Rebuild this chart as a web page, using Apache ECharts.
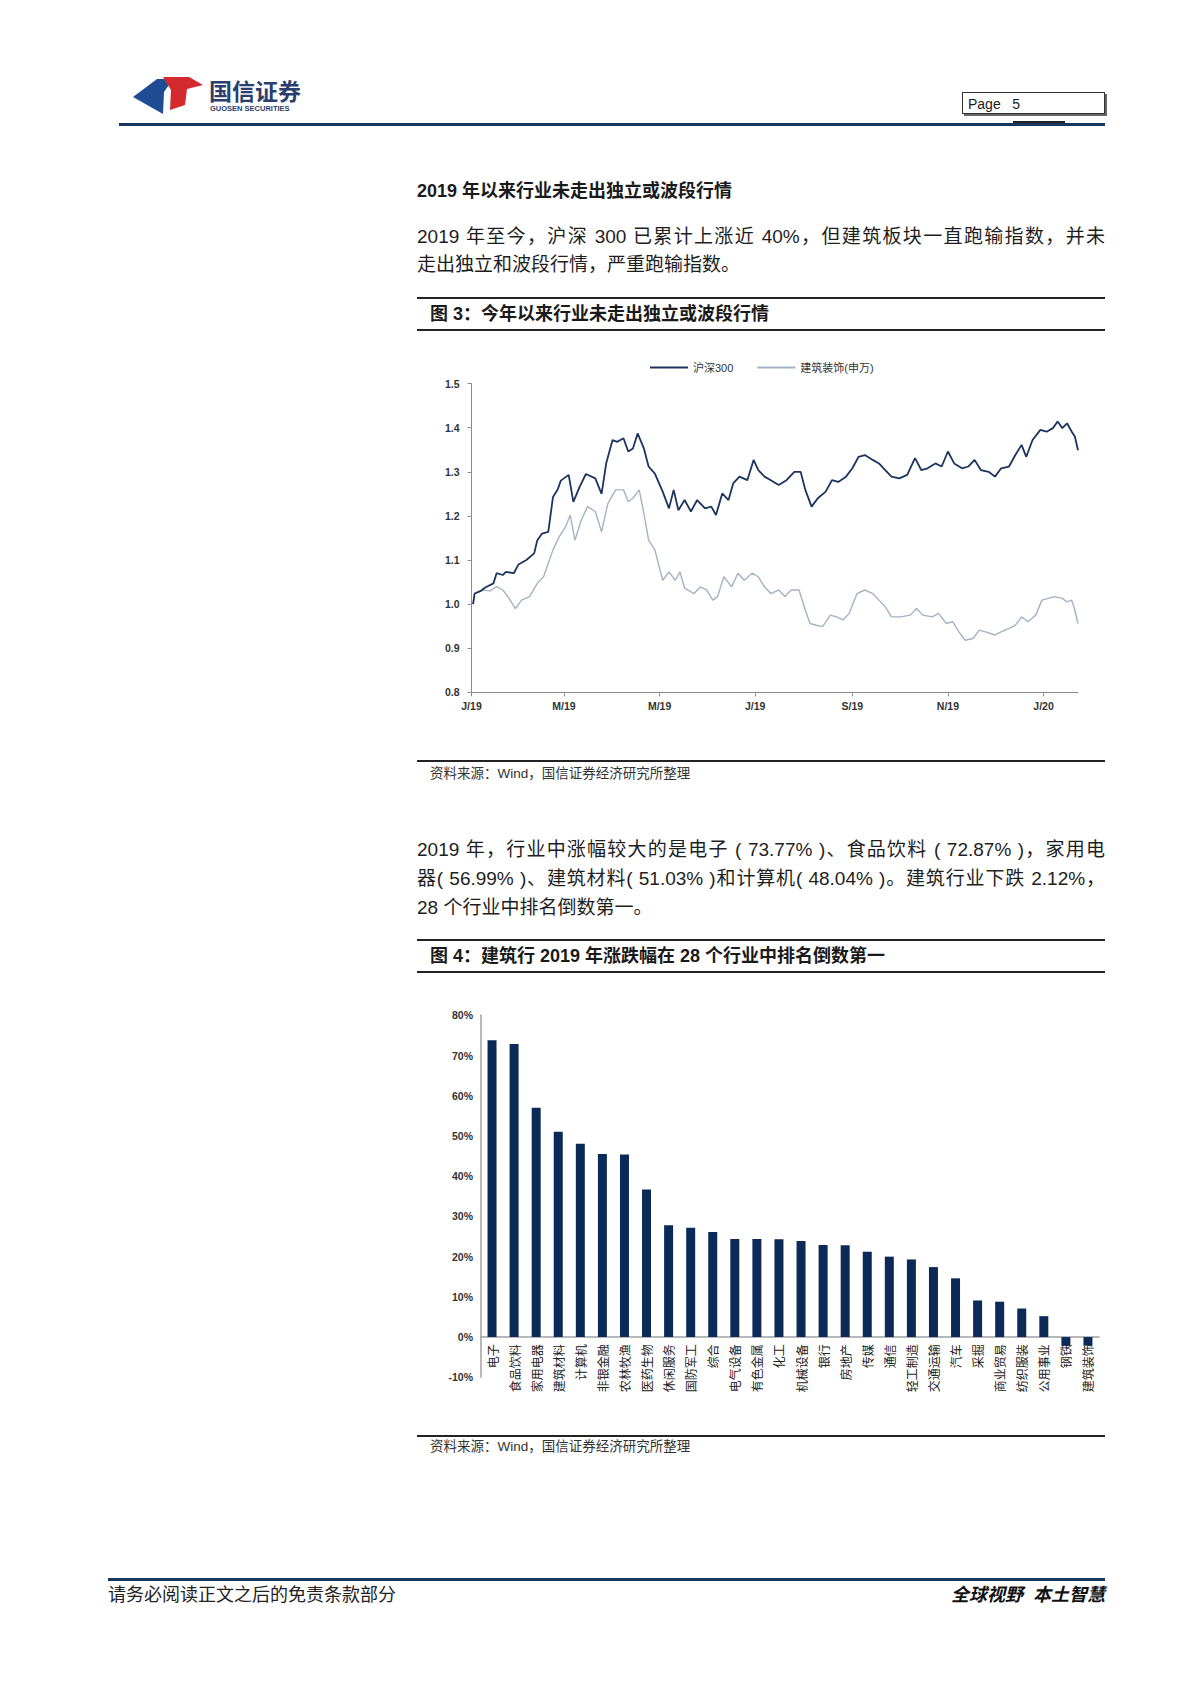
<!DOCTYPE html>
<html><head><meta charset="utf-8">
<script src="https://cdn.jsdelivr.net/npm/echarts@6/dist/echarts.min.js"></script>
<style>
html,body{margin:0;padding:0;background:#fff;}
#page{position:relative;width:1200px;height:1698px;background:#fff;font-family:"Liberation Sans","Noto Sans CJK SC",sans-serif;color:#1a1a1a;overflow:hidden;}
.abs{position:absolute;white-space:nowrap;}
.rule{position:absolute;left:417px;width:688px;height:1.5px;background:#222;}
.body{position:absolute;left:417px;width:688px;font-size:19px;line-height:28px;height:28px;color:#1e1e1e;}
.just{text-align:justify;text-align-last:justify;}
.cap{position:absolute;left:430px;font-size:18px;font-weight:bold;line-height:28px;white-space:nowrap;}
.src{position:absolute;left:430px;font-size:13.5px;line-height:16px;color:#333;white-space:nowrap;}
</style></head>
<body><div id="page">
<svg class="abs" style="left:133px;top:74px" width="72" height="44" viewBox="0 0 72 44">
  <polygon points="0,23 24,5 40,5 31,18 30,40" fill="#1f4c93"/>
  <polygon points="30,3 56,3 70,11 54,15 52,31 37,36 38,16" fill="#d42a2f"/>
</svg>
<div class="abs" style="left:209px;top:76px;font-size:23px;font-weight:bold;color:#2b3e6e;font-family:'Noto Sans CJK SC';line-height:28px;">国信证券</div>
<div class="abs" style="left:210px;top:104px;font-size:7.5px;font-weight:bold;color:#2b3e6e;line-height:9px;">GUOSEN SECURITIES</div>
<div class="abs" style="left:962px;top:92px;width:143px;height:22px;border:1px solid #333;box-shadow:2px 2px 0 #666;font-size:14px;line-height:22px;padding-left:5px;box-sizing:border-box;">Page&nbsp;&nbsp;&nbsp;5</div>
<div class="abs" style="left:1013px;top:121px;width:52px;height:2px;background:#222;"></div>
<div class="abs" style="left:119px;top:123px;width:986px;height:3px;background:#17365d;"></div>

<div class="cap" style="left:417px;top:177px;">2019 年以来行业未走出独立或波段行情</div>
<div class="body just" style="top:223px;">2019 年至今，沪深 300 已累计上涨近 40%，但建筑板块一直跑输指数，并未</div>
<div class="body" style="top:251px;">走出独立和波段行情，严重跑输指数。</div>
<div class="rule" style="top:297px;"></div>
<div class="cap" style="top:300px;">图 3：今年以来行业未走出独立或波段行情</div>
<div class="rule" style="top:329px;"></div>
<div id="c1" class="abs" style="left:417px;top:340px;width:700px;height:400px;"></div>
<div class="rule" style="top:760px;"></div>
<div class="src" style="top:766px;">资料来源：Wind，国信证券经济研究所整理</div>

<div class="body just" style="top:836px;">2019 年，行业中涨幅较大的是电子 ( 73.77% )、食品饮料 ( 72.87% )，家用电</div>
<div class="body just" style="top:865px;">器( 56.99% )、建筑材料( 51.03% )和计算机( 48.04% )。建筑行业下跌 2.12%，</div>
<div class="body" style="top:894px;">28 个行业中排名倒数第一。</div>
<div class="rule" style="top:939px;"></div>
<div class="cap" style="top:942px;">图 4：建筑行 2019 年涨跌幅在 28 个行业中排名倒数第一</div>
<div class="rule" style="top:971px;"></div>
<div id="c2" class="abs" style="left:417px;top:990px;width:700px;height:430px;"></div>
<div class="rule" style="top:1435px;"></div>
<div class="src" style="top:1439px;">资料来源：Wind，国信证券经济研究所整理</div>

<div class="abs" style="left:108px;top:1578px;width:997px;height:3px;background:#17365d;"></div>
<div class="abs" style="left:108px;top:1584px;font-size:18px;line-height:22px;color:#222;">请务必阅读正文之后的免责条款部分</div>
<div class="abs" style="right:95px;top:1584px;font-size:18px;line-height:22px;font-weight:bold;font-style:italic;color:#111;">全球视野&nbsp;&nbsp;本土智慧</div>
</div>
<script>
// ---- Figure 3 data ----
const seriesNames = ['沪深300', '建筑装饰(申万)'];
const hs300Dates = ['2019-01-02','2019-01-03','2019-01-07','2019-01-09','2019-01-11','2019-01-15','2019-01-17','2019-01-21','2019-01-23','2019-01-28','2019-01-31','2019-02-05','2019-02-10','2019-02-12','2019-02-15','2019-02-19','2019-02-22','2019-02-25','2019-02-27','2019-03-04','2019-03-07','2019-03-11','2019-03-15','2019-03-21','2019-03-25','2019-03-28','2019-04-01','2019-04-04','2019-04-08','2019-04-11','2019-04-14','2019-04-17','2019-04-21','2019-04-24','2019-04-28','2019-05-03','2019-05-07','2019-05-10','2019-05-13','2019-05-17','2019-05-21','2019-05-25','2019-05-30','2019-06-03','2019-06-06','2019-06-10','2019-06-14','2019-06-17','2019-06-21','2019-06-26','2019-06-30','2019-07-03','2019-07-07','2019-07-11','2019-07-16','2019-07-21','2019-07-26','2019-07-30','2019-08-02','2019-08-06','2019-08-10','2019-08-15','2019-08-19','2019-08-23','2019-08-28','2019-09-01','2019-09-05','2019-09-09','2019-09-14','2019-09-18','2019-09-22','2019-09-26','2019-10-01','2019-10-06','2019-10-11','2019-10-15','2019-10-19','2019-10-24','2019-10-28','2019-11-01','2019-11-05','2019-11-10','2019-11-14','2019-11-18','2019-11-22','2019-11-27','2019-12-01','2019-12-05','2019-12-10','2019-12-14','2019-12-18','2019-12-21','2019-12-25','2019-12-30','2020-01-03','2020-01-07','2020-01-10','2020-01-13','2020-01-16','2020-01-19','2020-01-21','2020-01-23'];
const hs300Values = [1.000,1.024,1.030,1.036,1.040,1.047,1.070,1.066,1.073,1.070,1.090,1.100,1.115,1.145,1.160,1.164,1.243,1.260,1.280,1.293,1.232,1.266,1.295,1.285,1.250,1.320,1.372,1.368,1.376,1.346,1.353,1.387,1.353,1.312,1.296,1.255,1.217,1.259,1.213,1.236,1.210,1.236,1.217,1.221,1.202,1.251,1.236,1.274,1.289,1.281,1.327,1.304,1.289,1.281,1.270,1.281,1.300,1.300,1.259,1.221,1.240,1.255,1.281,1.277,1.289,1.308,1.334,1.338,1.327,1.319,1.304,1.289,1.285,1.293,1.331,1.304,1.308,1.319,1.312,1.346,1.319,1.308,1.312,1.327,1.304,1.300,1.289,1.308,1.312,1.338,1.361,1.334,1.372,1.395,1.391,1.399,1.414,1.399,1.410,1.391,1.380,1.349];
const jzDates = ['2019-01-02','2019-01-03','2019-01-08','2019-01-13','2019-01-17','2019-01-21','2019-01-25','2019-01-29','2019-02-02','2019-02-07','2019-02-12','2019-02-16','2019-02-22','2019-02-26','2019-03-02','2019-03-05','2019-03-08','2019-03-12','2019-03-16','2019-03-21','2019-03-25','2019-03-29','2019-04-03','2019-04-08','2019-04-11','2019-04-14','2019-04-18','2019-04-21','2019-04-24','2019-04-28','2019-05-03','2019-05-07','2019-05-11','2019-05-14','2019-05-17','2019-05-23','2019-05-27','2019-05-31','2019-06-04','2019-06-07','2019-06-11','2019-06-16','2019-06-20','2019-06-24','2019-06-29','2019-07-03','2019-07-07','2019-07-11','2019-07-16','2019-07-20','2019-07-24','2019-07-29','2019-08-02','2019-08-05','2019-08-09','2019-08-13','2019-08-18','2019-08-22','2019-08-26','2019-08-30','2019-09-04','2019-09-09','2019-09-14','2019-09-18','2019-09-22','2019-09-26','2019-10-02','2019-10-08','2019-10-12','2019-10-16','2019-10-22','2019-10-26','2019-10-31','2019-11-04','2019-11-08','2019-11-12','2019-11-17','2019-11-21','2019-11-25','2019-12-01','2019-12-05','2019-12-10','2019-12-14','2019-12-18','2019-12-22','2019-12-27','2019-12-31','2020-01-04','2020-01-08','2020-01-13','2020-01-16','2020-01-19','2020-01-21','2020-01-23'];
const jzValues = [1.000,1.024,1.032,1.030,1.040,1.032,1.013,0.990,1.009,1.017,1.047,1.062,1.123,1.153,1.175,1.202,1.145,1.190,1.221,1.210,1.164,1.228,1.259,1.259,1.232,1.240,1.259,1.206,1.145,1.123,1.054,1.073,1.054,1.073,1.036,1.024,1.039,1.032,1.009,1.017,1.062,1.039,1.070,1.054,1.070,1.062,1.039,1.024,1.032,1.017,1.032,1.032,0.986,0.956,0.952,0.949,0.975,0.971,0.964,0.979,1.024,1.032,1.024,1.009,0.994,0.971,0.971,0.975,0.990,0.975,0.971,0.979,0.956,0.960,0.937,0.918,0.922,0.941,0.937,0.930,0.937,0.945,0.952,0.971,0.960,0.975,1.009,1.013,1.017,1.013,1.005,1.009,0.986,0.956];
const lineXTickDates = ['2019-01-01','2019-03-01','2019-05-01','2019-07-01','2019-09-01','2019-11-01','2020-01-01'];
const lineXTickLabels = ['J/19','M/19','M/19','J/19','S/19','N/19','J/20'];
const lineXStart = '2019-01-01', lineXEnd = '2020-01-23';

// ---- Figure 4 data ----
const industries = ['电子','食品饮料','家用电器','建筑材料','计算机','非银金融','农林牧渔','医药生物','休闲服务','国防军工','综合','电气设备','有色金属','化工','机械设备','银行','房地产','传媒','通信','轻工制造','交通运输','汽车','采掘','商业贸易','纺织服装','公用事业','钢铁','建筑装饰'];
const returns2019 = [73.77,72.87,56.99,51.03,48.04,45.5,45.4,36.7,27.8,27.2,26.1,24.4,24.4,24.3,23.9,22.9,22.8,21.2,20.0,19.3,17.4,14.6,9.1,8.8,7.1,5.2,-2.2,-2.12];

const axisFont = {fontFamily:'"Liberation Sans Narrow","Liberation Sans",Arial,sans-serif', fontWeight:'bold', fontSize:10.5, color:'#333'};

// Figure 4 (bar chart)
const c2 = echarts.init(document.getElementById('c2'), null, {renderer:'svg'});
c2.setOption({
  animation:false,
  grid:{left:64, top:25.3, width:618, height:362, containLabel:false},
  xAxis:{type:'category', data:industries,
    axisLine:{onZero:true, lineStyle:{color:'#a0a0a0', width:1.5}},
    axisTick:{show:false},
    axisLabel:{interval:0, rotate:90, margin:-33, fontSize:12, color:'#222', fontFamily:'"Noto Sans CJK SC"'}},
  yAxis:{type:'value', min:-10, max:80, interval:10,
    axisLine:{show:true, lineStyle:{color:'#a0a0a0', width:1.5}},
    axisTick:{show:false},
    axisLabel:Object.assign({margin:8, formatter:v => v + '%'}, axisFont),
    splitLine:{show:false}},
  series:[{type:'bar', data:returns2019, barWidth:9, itemStyle:{color:'#0c2a58'}}]
});

// Figure 3 (line chart) — x axis is a value axis of local-time timestamps
const tp = s => +echarts.time.parse(s);
const tickVals = lineXTickDates.map(tp);
const labelOf = {};
tickVals.forEach((v, i) => { labelOf[v] = lineXTickLabels[i]; });

const c1 = echarts.init(document.getElementById('c1'), null, {renderer:'svg'});
c1.setOption({
  animation:false,
  legend:{left:228, top:17, icon:'rect', itemWidth:38, itemHeight:2, itemGap:24,
    textStyle:{fontSize:11, color:'#333', fontFamily:'"Liberation Sans","Noto Sans CJK SC"'},
    data:seriesNames},
  grid:{left:54.5, top:43.6, width:606.5, height:308.7, containLabel:false},
  xAxis:{type:'value', min:tp(lineXStart), max:tp(lineXEnd), scale:true,
    axisLine:{show:true, onZero:false, lineStyle:{color:'#8c8c8c', width:1}},
    axisTick:{show:true, customValues:tickVals, length:4, lineStyle:{color:'#8c8c8c'}},
    axisLabel:Object.assign({customValues:tickVals, margin:8, showMinLabel:true, showMaxLabel:true,
      formatter:v => labelOf[v] || ''}, axisFont),
    splitLine:{show:false}},
  yAxis:{type:'value', min:0.8, max:1.5, interval:0.1,
    axisLine:{show:true, lineStyle:{color:'#8c8c8c', width:1}},
    axisTick:{show:true, length:4, lineStyle:{color:'#8c8c8c'}},
    axisLabel:Object.assign({margin:12, formatter:v => v.toFixed(1)}, axisFont),
    splitLine:{show:false}},
  series:[
    {name:seriesNames[1], type:'line', symbol:'none', z:2,
      lineStyle:{color:'#a3b3c4', width:1.4}, itemStyle:{color:'#a3b3c4'},
      data:jzDates.map((d,i)=>[tp(d), jzValues[i]])},
    {name:seriesNames[0], type:'line', symbol:'none', z:3,
      lineStyle:{color:'#1b355e', width:1.8}, itemStyle:{color:'#1b355e'},
      data:hs300Dates.map((d,i)=>[tp(d), hs300Values[i]])}
  ]
});
</script>
</body></html>
